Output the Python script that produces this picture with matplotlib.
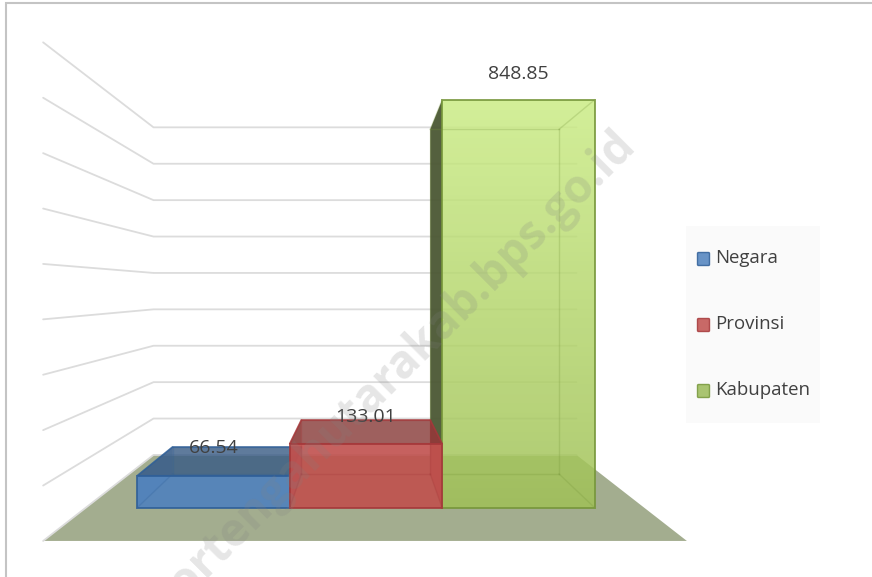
import matplotlib
matplotlib.use("Agg")
import matplotlib.pyplot as plt
import numpy as np
from matplotlib.patches import FancyBboxPatch, Polygon, Rectangle

# Data
categories = ["Negara", "Provinsi", "Kabupaten"]
values = [66.54, 133.01, 848.85]
value_labels = ["66.54", "133.01", "848.85"]
grid_values = [0, 100, 200, 300, 400, 500, 600, 700, 800, 900]

blue = "#4f81bd"
red = "#c0504d"
green = "#9bbb59"
edges = ["#2f5f98", "#a5383a", "#76963a"]
colors = [blue, red, green]
# red goes over green so the dark side of the tall bar is hidden behind it
bar_z = [3, 5, 4]

# perspective: a point (X, v) at depth scale s lands on
# x = cx + X*s, y = vy + s*(ground - v)
cx, vy, ground = 365.0, 290.2, 452.6
s_front, s_bar_front, s_bar_back, s_wall = 0.554, 0.4806, 0.406, 0.364
floor_half = 581.0
bar_left = -474.0
bar_w = 317.3


def pt(X, v, s):
    return (cx + X * s, vy + s * (ground - v))


fig = plt.figure(figsize=(8.72, 5.77), dpi=100)
ax = fig.add_axes([0, 0, 1, 1])
ax.set_xlim(0, 872)
ax.set_ylim(577, 0)
ax.axis("off")

# outer frame
ax.add_patch(Rectangle((6, 2.5), 900, 600, fc="white", ec="#c4c4c4", lw=1.5))

# floor
ax.add_patch(Polygon([pt(-floor_half, 0, s_front), pt(floor_half, 0, s_front),
                      pt(floor_half, 0, s_wall), pt(-floor_half, 0, s_wall)],
                     fc="#a3ad8f", ec="none", zorder=1))

# gridlines on side and back wall
for g in grid_values:
    pts = [pt(-floor_half, g, s_front), pt(-floor_half, g, s_wall), pt(floor_half, g, s_wall)]
    ax.plot(*zip(*pts), color="#dcdcdc", lw=1.3, zorder=2, solid_capstyle="round")

# bars
for i, (v, c, e, z) in enumerate(zip(values, colors, edges, bar_z)):
    x0 = bar_left + i * bar_w
    x1 = x0 + bar_w
    fb0, fb1, ft1, ft0 = (pt(x0, 0, s_bar_front), pt(x1, 0, s_bar_front),
                          pt(x1, v, s_bar_front), pt(x0, v, s_bar_front))
    bb0, bb1, bt1, bt0 = (pt(x0, 0, s_bar_back), pt(x1, 0, s_bar_back),
                          pt(x1, v, s_bar_back), pt(x0, v, s_bar_back))
    # left side, right side, top
    if i == 2:
        ax.add_patch(Polygon([ft0, bt0, bb0, fb0], fc="#4b5733", ec="none", alpha=0.95, zorder=z))
    else:
        ax.add_patch(Polygon([fb0, ft0, bt0, bb0], fc=c, ec="none", alpha=0.45, zorder=z))
        ax.add_patch(Polygon([fb1, ft1, bt1, bb1], fc=c, ec="none", alpha=0.75, zorder=z))
        ax.add_patch(Polygon([ft0, ft1, bt1, bt0], fc=np.array(matplotlib.colors.to_rgb(c)) * 0.7,
                             ec=e, lw=1.2, alpha=0.8, zorder=z))
    # front face
    if i == 2:
        grad = np.zeros((256, 1, 4))
        top_c = np.array(matplotlib.colors.to_rgb("#cbec86"))
        bot_c = np.array(matplotlib.colors.to_rgb("#a0c157"))
        t = np.linspace(0, 1, 256)[:, None, None]
        grad[..., :3] = top_c * (1 - t) + bot_c * t
        grad[..., 3] = 0.85
        ax.imshow(grad, extent=[fb0[0], fb1[0], fb0[1], ft0[1]], aspect="auto", zorder=z + 0.1)
        ax.set_xlim(0, 872)
        ax.set_ylim(577, 0)
    else:
        ax.add_patch(Polygon([fb0, fb1, ft1, ft0], fc=c, ec="none", alpha=0.9, zorder=z + 0.1))
    # inner edges seen through the front face
    for a, b in [(bt0, bb0), (bb0, bb1), (bb1, bt1), (bt1, bt0),
                 (fb0, bb0), (fb1, bb1), (ft0, bt0), (ft1, bt1)]:
        ax.plot(*zip(a, b), color=e, lw=1, alpha=0.25, zorder=z + 0.15)
    ax.add_patch(Polygon([fb0, fb1, ft1, ft0], fc="none", ec=e, lw=1.4, alpha=0.85, zorder=z + 0.2))

# data labels
label_y = [448, 417, 74]
for i, (txt, y) in enumerate(zip(value_labels, label_y)):
    X = bar_left + (i + 0.5) * bar_w
    ax.text(cx + X * s_bar_front, y, txt, ha="center", va="center",
            fontsize=14, family="Open Sans", color="#404040", zorder=8)

# legend
ax.add_patch(Rectangle((686, 226), 134, 197, fc="#fafafa", ec="none", zorder=1))
legend_y = [258, 324, 390]
for name, c, e, y in zip(categories, colors, edges, legend_y):
    ax.add_patch(FancyBboxPatch((697.5, y - 5.5), 12, 13, boxstyle="round,pad=0,rounding_size=1",
                                fc=c, ec=e, lw=1, alpha=0.85, zorder=2))
    ax.text(715, y, name, ha="left", va="center", fontsize=13.4, family="Open Sans",
            color="#404040", zorder=3)

# watermark
ax.text(628, 137, "portengahutarakab.bps.go.id", rotation=45, rotation_mode="anchor",
        ha="right", va="center", fontsize=33, fontweight="bold", family="Open Sans",
        color="#808080", alpha=0.2, zorder=9, clip_on=True)

fig.savefig("out.png", dpi=100)
